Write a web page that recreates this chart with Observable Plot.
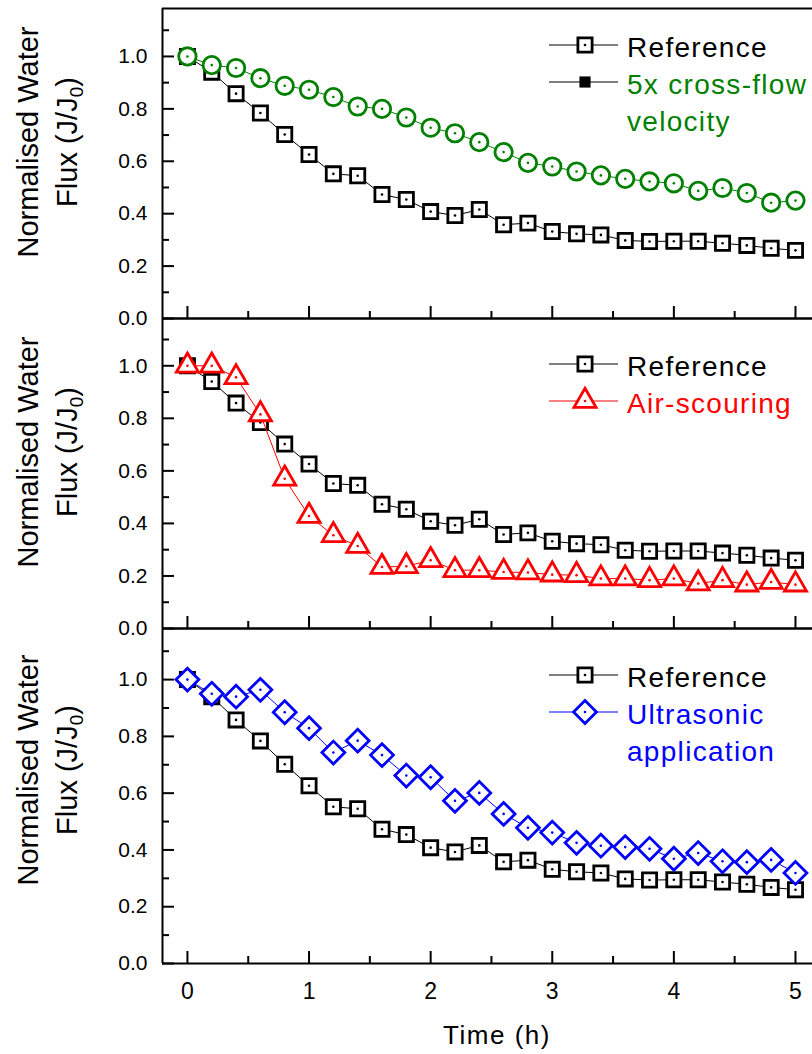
<!DOCTYPE html>
<html>
<head>
<meta charset="utf-8">
<script src="https://cdn.jsdelivr.net/npm/d3@7"></script>
<script src="https://cdn.jsdelivr.net/npm/@observablehq/plot@0.6"></script>
<style>
  html, body { margin: 0; padding: 0; background: #fff; overflow: hidden; }
  #chart svg { display: block; overflow: visible; }
</style>
</head>
<body>
<div id="chart"></div>
<script>
// ---------- data ----------
const timeH = [0, 0.2, 0.4, 0.6, 0.8, 1.0, 1.2, 1.4, 1.6, 1.8, 2.0, 2.2, 2.4, 2.6, 2.8, 3.0, 3.2, 3.4, 3.6, 3.8, 4.0, 4.2, 4.4, 4.6, 4.8, 5.0];
const referenceFlux = [1.0, 0.94, 0.858, 0.784, 0.702, 0.626, 0.552, 0.545, 0.473, 0.454, 0.408, 0.393, 0.416, 0.358, 0.364, 0.332, 0.323, 0.319, 0.298, 0.294, 0.295, 0.295, 0.287, 0.279, 0.268, 0.26];
const crossFlowFlux = [1.0, 0.967, 0.956, 0.917, 0.888, 0.873, 0.845, 0.809, 0.800, 0.767, 0.728, 0.707, 0.673, 0.635, 0.594, 0.580, 0.561, 0.546, 0.533, 0.523, 0.516, 0.487, 0.498, 0.479, 0.442, 0.450];
const airScouringFlux = [1.0, 1.0, 0.956, 0.815, 0.570, 0.428, 0.355, 0.314, 0.234, 0.237, 0.260, 0.222, 0.222, 0.215, 0.213, 0.205, 0.203, 0.190, 0.190, 0.184, 0.190, 0.171, 0.184, 0.167, 0.177, 0.167];
const ultrasonicFlux = [1.0, 0.950, 0.940, 0.964, 0.885, 0.829, 0.743, 0.785, 0.734, 0.662, 0.656, 0.573, 0.601, 0.527, 0.478, 0.461, 0.425, 0.415, 0.410, 0.404, 0.369, 0.389, 0.360, 0.357, 0.365, 0.319];

const yMajorTicks = [0, 0.2, 0.4, 0.6, 0.8, 1.0];
const yMinorTicks = [0.1, 0.3, 0.5, 0.7, 0.9, 1.1];
const xMajorTicks = [0, 1, 2, 3, 4, 5];
const xMinorTicks = [0.5, 1.5, 2.5, 3.5, 4.5];

const referenceName = "Reference";
const seriesNames = ["5x cross-flow\nvelocity", "Air-scouring", "Ultrasonic\napplication"];
const seriesValues = [crossFlowFlux, airScouringFlux, ultrasonicFlux];
const seriesColors = ["#008000", "#ff0000", "#0000ff"];
const seriesSymbols = ["circle", "triangle", "diamond2"];
const seriesRadius = [8.7, 8.2, 10.3];
const xTitle = "Time (h)";
const yTitleLine1 = "Normalised Water";
const yTitleLine2 = ["Flux (J/J", "0", ")"];

// ---------- layout ----------
const FONT = "'Liberation Sans', Arial, Helvetica, sans-serif";
const W = 812;
const xDomain = [-0.205, 5.14];
const panels = [
  { height: 318, marginTop: 8, marginBottom: 0, yMax: 1.183, legendTop: 45, titleY: 142, xLabels: false },
  { height: 310, marginTop: 0, marginBottom: 0, yMax: 1.18, legendTop: 46, titleY: 134, xLabels: false },
  { height: 426, marginTop: 0, marginBottom: 91, yMax: 1.18, legendTop: 47, titleY: 142, xLabels: true }
];
const MARKER_STROKE = 2.8;

function makePanel(k) {
  const p = panels[k];
  const color = seriesColors[k];
  const ref = timeH.map((t, i) => ({ t, v: referenceFlux[i] }));
  const ser = timeH.map((t, i) => ({ t, v: seriesValues[k][i] }));
  const blank = () => "";
  const marks = [
    Plot.ruleX([xDomain[0]], { stroke: "black", strokeWidth: 2 }),
    Plot.ruleY([0], { stroke: "black", strokeWidth: 2 }),
    Plot.ruleY([p.yMax], { stroke: "black", strokeWidth: 2 }),
    Plot.axisY({ ticks: yMajorTicks, tickSize: -12, tickFormat: blank, label: null, strokeWidth: 2 }),
    Plot.axisY({ ticks: yMinorTicks, tickSize: -7, tickFormat: blank, label: null, strokeWidth: 2 }),
    Plot.axisY({ ticks: yMajorTicks, tickSize: 0, tickPadding: 15, tickFormat: d3.format(".1f"), label: null, fontSize: 21, fill: "black" }),
    Plot.axisX({ ticks: xMajorTicks, tickSize: -12, tickFormat: blank, label: null, strokeWidth: 2 }),
    Plot.axisX({ ticks: xMinorTicks, tickSize: -7, tickFormat: blank, label: null, strokeWidth: 2 }),
    Plot.line(ref, { x: "t", y: "v", stroke: "black", strokeWidth: 1 }),
    Plot.dot(ref, { x: "t", y: "v", symbol: "square", r: 8, stroke: "black", strokeWidth: MARKER_STROKE, fill: "white" }),
    Plot.dot(ref, { x: "t", y: "v", r: 1.3, fill: "black" }),
    Plot.line(ser, { x: "t", y: "v", stroke: color, strokeWidth: 1 }),
    Plot.dot(ser, { x: "t", y: "v", symbol: seriesSymbols[k], r: seriesRadius[k], stroke: color, strokeWidth: MARKER_STROKE, fill: "white" }),
    Plot.dot(ser, { x: "t", y: "v", r: 1.3, fill: color })
  ];
  if (p.xLabels) {
    marks.push(Plot.axisX({ ticks: xMajorTicks, tickSize: 0, tickPadding: 19, tickFormat: d3.format("d"), label: null, fontSize: 23, fill: "black" }));
  }
  const svg = Plot.plot({
    width: W,
    height: p.height,
    marginLeft: 162,
    marginRight: 0,
    marginTop: p.marginTop,
    marginBottom: p.marginBottom,
    style: { fontFamily: FONT, fontSize: "21px", background: "none", color: "black", overflow: "visible" },
    x: { domain: xDomain },
    y: { domain: [0, p.yMax] },
    marks
  });

  const s = d3.select(svg);

  // legend
  const lg = s.append("g").attr("font-family", FONT).attr("font-size", 28)
    .attr("letter-spacing", 1.3).attr("text-anchor", "start");
  const rows = [
    { label: referenceName, lineColor: "black", textColor: "black", symbol: d3.symbolSquare, r: 8, stroke: "black", fill: "white", dot: "black" },
    k === 0
      ? { label: seriesNames[k], lineColor: "black", textColor: color, symbol: d3.symbolSquare, r: 6.3, stroke: "none", fill: "black", dot: null }
      : { label: seriesNames[k], lineColor: color, textColor: color, symbol: k === 1 ? d3.symbolTriangle : d3.symbolDiamond2, r: seriesRadius[k], stroke: color, fill: "white", dot: color }
  ];
  rows.forEach((row, j) => {
    const y = p.legendTop + j * 37;
    lg.append("line").attr("x1", 549).attr("x2", 618).attr("y1", y).attr("y2", y)
      .attr("stroke", row.lineColor).attr("stroke-width", 1);
    lg.append("path").attr("transform", `translate(585,${y})`)
      .attr("d", d3.symbol(row.symbol, Math.PI * row.r * row.r)())
      .attr("fill", row.fill).attr("stroke", row.stroke).attr("stroke-width", MARKER_STROKE);
    if (row.dot) lg.append("circle").attr("cx", 585).attr("cy", y).attr("r", 1.3).attr("fill", row.dot);
    const t = lg.append("text").attr("x", 627).attr("y", y + 11.5).attr("fill", row.textColor);
    row.label.split("\n").forEach((line, m) => {
      t.append("tspan").attr("x", 627).attr("dy", m === 0 ? 0 : 37).text(line);
    });
  });

  // y-axis title (two lines, rotated)
  const tg = s.append("g").attr("font-family", FONT).attr("font-size", 29).attr("fill", "black");
  tg.append("text").attr("transform", `translate(38,${p.titleY}) rotate(-90)`)
    .attr("text-anchor", "middle").text(yTitleLine1);
  const t2 = tg.append("text").attr("transform", `translate(77,${p.titleY}) rotate(-90)`)
    .attr("text-anchor", "middle");
  t2.append("tspan").text(yTitleLine2[0]);
  t2.append("tspan").attr("font-size", 19).attr("dy", 6).text(yTitleLine2[1]);
  t2.append("tspan").attr("dy", -6).text(yTitleLine2[2]);

  if (p.xLabels) {
    s.append("text").attr("x", 497).attr("y", p.height - p.marginBottom + 81)
      .attr("text-anchor", "middle").attr("font-family", FONT).attr("font-size", 26)
      .attr("letter-spacing", 1.5).attr("fill", "black").text(xTitle);
  }
  return svg;
}

const chart = document.getElementById("chart");
panels.forEach((p, k) => chart.appendChild(makePanel(k)));
</script>
</body>
</html>
